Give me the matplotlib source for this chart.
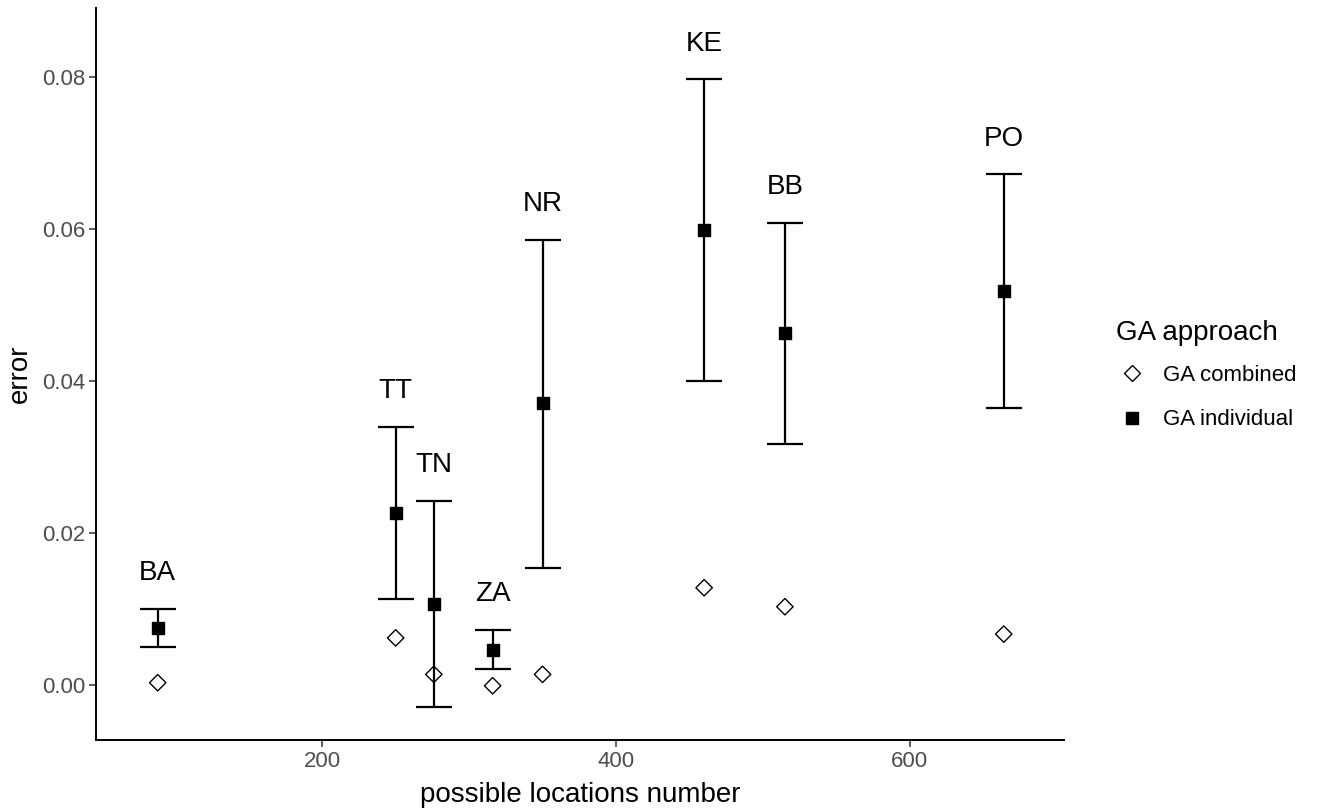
import matplotlib
matplotlib.use("Agg")
import matplotlib.pyplot as plt
from matplotlib.lines import Line2D

plt.rcParams['font.family'] = ['Liberation Sans', 'DejaVu Sans']

# Data
sites = ["BA", "TT", "TN", "ZA", "NR", "KE", "BB", "PO"]
locations = [88, 250, 276, 316, 350, 460, 515, 664]
individual_mean = [0.0075, 0.0226, 0.0107, 0.0046, 0.0371, 0.0599, 0.0463, 0.0518]
individual_upper = [0.0100, 0.0340, 0.0242, 0.0073, 0.0586, 0.0797, 0.0608, 0.0672]
individual_lower = [0.0050, 0.0113, -0.0029, 0.0021, 0.0154, 0.0400, 0.0317, 0.0364]
combined_error = [0.0003, 0.0062, 0.0014, -0.0001, 0.0014, 0.0128, 0.0103, 0.0067]

fig = plt.figure(figsize=(13.18, 8.10), dpi=100)
ax = fig.add_axes([96 / 1318, 1 - 740 / 810, (1064 - 96) / 1318, (740 - 8) / 810])

# Error bars for the individual approach
err_low = [m - lo for m, lo in zip(individual_mean, individual_lower)]
err_up = [up - m for m, up in zip(individual_mean, individual_upper)]
ax.errorbar(locations, individual_mean, yerr=[err_low, err_up], fmt="none",
            ecolor="black", elinewidth=1.6, capsize=13, capthick=1.6, zorder=2)

ax.scatter(locations, combined_error, marker="D", s=70,
           facecolors="none", edgecolors="black", linewidths=1.0, zorder=1)
ax.scatter(locations, individual_mean, marker="s", s=70, color="black", zorder=3)

# Site labels above the error bars
for name, x, up in zip(sites, locations, individual_upper):
    ax.text(x, up + 0.0047, name, ha="center", va="center", fontsize=20)

ax.set_xlim(46, 705)
ax.set_ylim(-0.00724, 0.0891)
ax.set_xticks([200, 400, 600])
ax.set_yticks([0.00, 0.02, 0.04, 0.06, 0.08])
ax.set_yticklabels(["0.00", "0.02", "0.04", "0.06", "0.08"])
ax.tick_params(axis="both", labelsize=16, labelcolor="#4D4D4D", length=5, width=1.1,
               color="#333333", pad=3)

for side in ["top", "right"]:
    ax.spines[side].set_visible(False)
for side in ["left", "bottom"]:
    ax.spines[side].set_linewidth(1.4)

ax.set_xlabel("possible locations number", fontsize=20, labelpad=7)
ax.set_ylabel("error", fontsize=20, labelpad=6)

handles = [
    Line2D([], [], marker="D", linestyle="none", markersize=8, markerfacecolor="none",
           markeredgecolor="black", markeredgewidth=1.0),
    Line2D([], [], marker="s", linestyle="none", markersize=8, color="black"),
]
leg = fig.legend(handles, ["GA combined", "GA individual"], title="GA approach",
                 loc="center left", bbox_to_anchor=(1096 / 1318, 1 - 375 / 810),
                 frameon=False, fontsize=16, title_fontsize=20, handletextpad=0.7,
                 handlelength=1.4, labelspacing=1.05)
leg._legend_box.align = "left"
leg._legend_box.sep = 14

fig.savefig("out.png", dpi=100)
